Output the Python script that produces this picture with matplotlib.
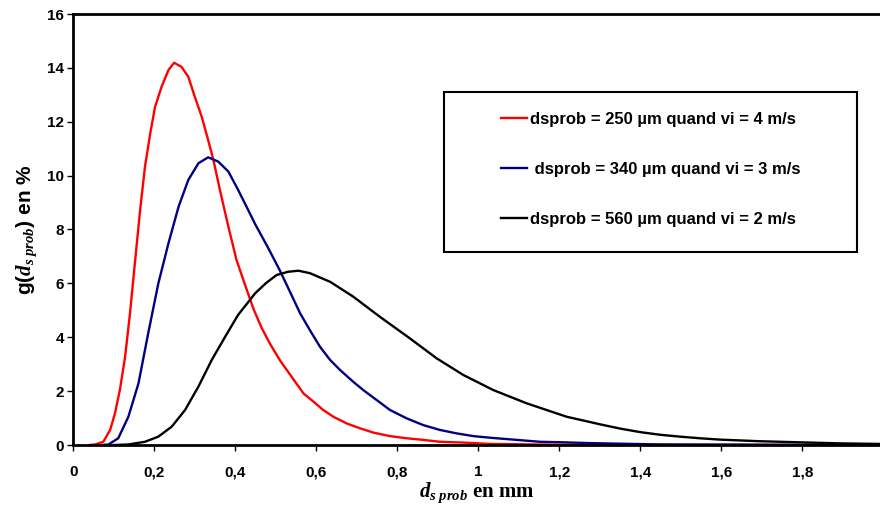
import matplotlib
matplotlib.use("Agg")
import matplotlib.pyplot as plt
from matplotlib.patches import Rectangle

plt.rcParams["font.family"] = ["Liberation Sans", "DejaVu Sans"]
plt.rcParams["mathtext.fontset"] = "custom"
plt.rcParams["mathtext.it"] = "Liberation Serif:italic:bold"
plt.rcParams["mathtext.rm"] = "Liberation Serif:bold"

# values (x in mm, y in %)
red_x = [0.040, 0.054, 0.074, 0.091, 0.103, 0.115, 0.128, 0.140, 0.152, 0.165,
         0.177, 0.190, 0.202, 0.218, 0.235, 0.249, 0.267, 0.284, 0.300, 0.317,
         0.333, 0.346, 0.362, 0.383, 0.403, 0.424, 0.445, 0.465, 0.486, 0.510,
         0.535, 0.568, 0.593, 0.617, 0.642, 0.675, 0.708, 0.741, 0.782, 0.823,
         0.864, 0.905, 0.963, 1.029, 1.200, 1.990]
red_y = [0.00, 0.02, 0.12, 0.56, 1.18, 2.04, 3.28, 4.89, 6.74, 8.72,
         10.33, 11.57, 12.56, 13.30, 13.92, 14.19, 14.04, 13.67, 12.93, 12.19,
         11.32, 10.58, 9.47, 8.10, 6.87, 5.95, 5.05, 4.35, 3.75, 3.15,
         2.62, 1.92, 1.61, 1.30, 1.05, 0.80, 0.62, 0.46, 0.33, 0.25,
         0.19, 0.12, 0.09, 0.04, 0.01, 0.00]

blue_x = [0.070, 0.087, 0.111, 0.136, 0.161, 0.185, 0.210, 0.235, 0.260, 0.284,
          0.309, 0.333, 0.358, 0.383, 0.407, 0.432, 0.449, 0.480, 0.510, 0.535,
          0.560, 0.584, 0.609, 0.634, 0.659, 0.691, 0.716, 0.749, 0.782, 0.823,
          0.864, 0.905, 0.947, 0.988, 1.029, 1.095, 1.152, 1.210, 1.276, 1.450,
          1.990]
blue_y = [0.00, 0.02, 0.25, 1.05, 2.29, 4.15, 6.00, 7.49, 8.85, 9.84,
          10.46, 10.68, 10.52, 10.15, 9.47, 8.72, 8.20, 7.35, 6.48, 5.69,
          4.89, 4.27, 3.65, 3.16, 2.78, 2.35, 2.04, 1.67, 1.30, 0.99,
          0.74, 0.56, 0.43, 0.33, 0.27, 0.19, 0.12, 0.10, 0.07, 0.02,
          0.00]

black_x = [0.100, 0.136, 0.177, 0.210, 0.243, 0.276, 0.309, 0.342, 0.375, 0.407,
           0.449, 0.475, 0.502, 0.530, 0.556, 0.584, 0.634, 0.691, 0.757, 0.831,
           0.897, 0.963, 1.037, 1.119, 1.218, 1.300, 1.350, 1.399, 1.449, 1.498,
           1.547, 1.597, 1.695, 1.794, 1.893, 1.990]
black_y = [0.00, 0.02, 0.12, 0.31, 0.68, 1.30, 2.17, 3.16, 4.02, 4.83,
           5.63, 6.00, 6.31, 6.43, 6.47, 6.38, 6.06, 5.51, 4.76, 3.96,
           3.22, 2.60, 2.04, 1.55, 1.05, 0.77, 0.61, 0.48, 0.38, 0.31,
           0.25, 0.20, 0.14, 0.10, 0.06, 0.04]

labels = [
    "dsprob = 250 µm quand vi = 4 m/s",
    " dsprob = 340 µm quand vi = 3 m/s",
    "dsprob = 560 µm quand vi = 2 m/s",
]
x_ticks = [0, 0.2, 0.4, 0.6, 0.8, 1.0, 1.2, 1.4, 1.6, 1.8]
x_tick_labels = ["0", "0,2", "0,4", "0,6", "0,8", "1", "1,2", "1,4", "1,6", "1,8"]
y_ticks = [0, 2, 4, 6, 8, 10, 12, 14, 16]

fig = plt.figure(figsize=(8.8, 5.11), dpi=100)
ax = fig.add_axes([73.3 / 880, 66 / 511, 806.7 / 880, 431 / 511])

ax.plot(red_x, red_y, color="#FF0000", lw=1.7, label=labels[0])
ax.plot(blue_x, blue_y, color="#000080", lw=1.7, label=labels[1])
ax.plot(black_x, black_y, color="black", lw=1.7, label=labels[2])

ax.set_xlim(0, 1.992)
ax.set_ylim(0, 16)
ax.set_xticks(x_ticks)
ax.set_xticklabels(x_tick_labels)
ax.set_yticks(y_ticks)
for lab in ax.get_xticklabels() + ax.get_yticklabels():
    lab.set_fontweight("bold")
    lab.set_fontsize(11)
ax.tick_params(axis="y", direction="out", length=4.5, width=1, pad=2)
ax.tick_params(axis="x", direction="out", length=4.5, width=1, pad=10)

for side in ("left", "bottom", "top"):
    ax.spines[side].set_linewidth(2)
ax.spines["right"].set_visible(False)

ax.set_xlabel(r"$d_{s\ prob}$ en mm", fontfamily="Liberation Serif",
              fontweight="bold", fontsize=15, labelpad=1)
ax.set_ylabel(r"g($d_{s\ prob}$) en %", fontweight="bold", fontsize=15,
              labelpad=6)

# legend frame drawn as a fixed box, entries placed inside it
ax.add_patch(Rectangle((0.4595, 0.4478), 0.512, 0.371, transform=ax.transAxes,
                       fill=False, lw=1.5, edgecolor="black", zorder=3))
ax.legend(loc="center", bbox_to_anchor=(0.716, 0.639), frameon=False,
          prop={"weight": "bold", "size": 12}, handlelength=1.55,
          handletextpad=0.2, labelspacing=2.1)

fig.savefig("out.png", dpi=100)
